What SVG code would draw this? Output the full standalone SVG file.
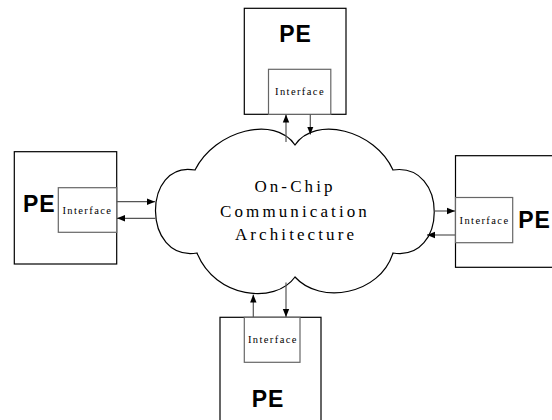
<svg xmlns="http://www.w3.org/2000/svg" width="552" height="420" viewBox="0 0 552 420">
<style>
.pe{fill:#fff;stroke:#000;stroke-width:1.2}
.if{fill:#fff;stroke:#666;stroke-width:1.2}
.pet{font-family:"Liberation Sans",Arial,sans-serif;font-weight:bold;font-size:23px;letter-spacing:1px;text-anchor:middle;fill:#000}
.ift{font-family:"Liberation Serif","Times New Roman",serif;font-size:10.5px;letter-spacing:1.4px;text-anchor:middle;fill:#000}
.ct{font-family:"Liberation Serif","Times New Roman",serif;font-size:17px;letter-spacing:3.1px;text-anchor:middle;fill:#000}
.cn{fill:none;stroke:#555;stroke-width:1.2}
</style>
<defs>
<marker id="ah" markerUnits="userSpaceOnUse" markerWidth="8" markerHeight="8" viewBox="0 0 8 8" refX="8" refY="4" orient="auto">
<path d="M0,0.8 L8,4 L0,7.2 Z" fill="#000"/>
</marker>
</defs>
<g id="cloud">
<path d="M195,170 C215,130 275,115 295,145 C315,115 375,130 393,170 C448,162 448,262 393,253 C380,295 320,305 295,277 C275,305 215,298 197,253 C142,262 142,160 195,170 Z" fill="#fff" stroke="#000" stroke-width="1.2"/>
<text class="ct" x="295" y="191.5">On-Chip</text>
<text class="ct" x="295" y="216.5">Communication</text>
<text class="ct" x="296" y="240">Architecture</text>
</g>
<g id="pe-top">
<rect class="pe" x="244.3" y="8.3" width="101.7" height="106"/>
<rect class="if" x="268.5" y="69.3" width="62.3" height="45"/>
<text class="pet" x="295.5" y="41.5">PE</text>
<text class="ift" x="300" y="95">Interface</text>
</g>
<g id="pe-left">
<rect class="pe" x="14.3" y="151.7" width="102.4" height="112.3"/>
<rect class="if" x="58.3" y="187.7" width="58.4" height="44.6"/>
<text class="pet" x="39.3" y="211.7">PE</text>
<text class="ift" x="87.4" y="213.7">Interface</text>
</g>
<g id="pe-right">
<rect class="pe" x="455.5" y="155.7" width="110" height="111.6"/>
<rect class="if" x="455.5" y="197.5" width="57.2" height="45.2"/>
<text class="pet" x="534.5" y="228.3">PE</text>
<text class="ift" x="484.5" y="224.3">Interface</text>
</g>
<g id="pe-bottom">
<rect class="pe" x="220" y="317.3" width="101" height="120"/>
<rect class="if" x="244.3" y="317.3" width="55.7" height="45"/>
<text class="pet" x="268" y="406.7">PE</text>
<text class="ift" x="272.9" y="343.3">Interface</text>
</g>
<g id="connectors">
<line class="cn" x1="286" y1="142" x2="286" y2="114.5" marker-end="url(#ah)"/>
<line class="cn" x1="310.3" y1="114.5" x2="310.3" y2="134.5" marker-end="url(#ah)"/>
<line class="cn" x1="116.7" y1="201.7" x2="155" y2="201.7" marker-end="url(#ah)"/>
<line class="cn" x1="155.5" y1="218.3" x2="117" y2="218.3" marker-end="url(#ah)"/>
<line class="cn" x1="434.5" y1="211" x2="455" y2="211" marker-end="url(#ah)"/>
<line class="cn" x1="455" y1="235" x2="427" y2="235" marker-end="url(#ah)"/>
<line class="cn" x1="253.3" y1="317" x2="253.3" y2="294.5" marker-end="url(#ah)"/>
<line class="cn" x1="286" y1="282.5" x2="286" y2="317" marker-end="url(#ah)"/>
</g>
</svg>
